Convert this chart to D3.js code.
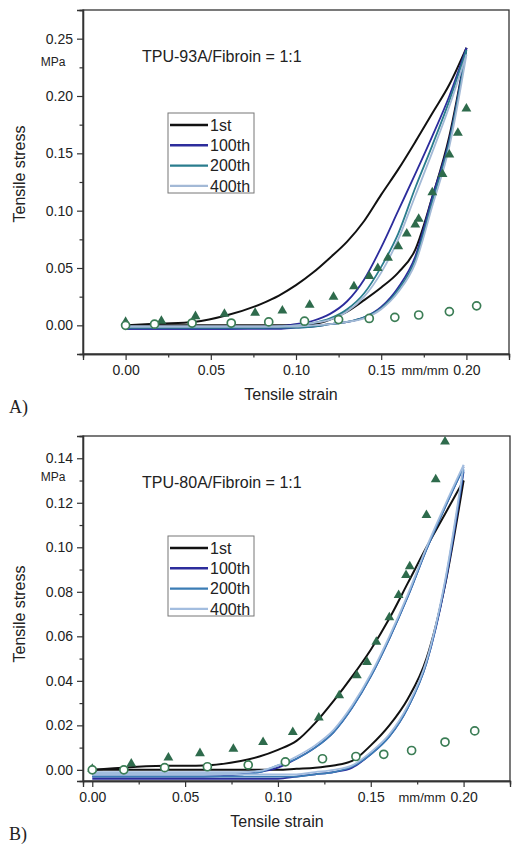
<!DOCTYPE html>
<html><head><meta charset="utf-8">
<script src="https://cdn.jsdelivr.net/npm/d3@7"></script>
<style>
body{margin:0;background:#fff;}
svg text{font-family:"Liberation Sans",Arial,Helvetica,sans-serif;fill:#222;}
</style>
</head><body>
<svg id="chart" width="520" height="850"></svg>
<script>
// ---------- DATA ----------
const cycleNames = ["1st", "100th", "200th", "400th"];
const strainGrid = [0, 0.02, 0.04, 0.06, 0.08, 0.09, 0.10, 0.11, 0.12, 0.13, 0.14, 0.15, 0.16, 0.17, 0.18, 0.19, 0.20];

// Panel A : TPU-93A/Fibroin = 1:1  (stress, MPa, at strainGrid)
const aLoad1st   = [0, 0.0015, 0.003, 0.009, 0.019, 0.026, 0.035, 0.046, 0.059, 0.073, 0.091, 0.114, 0.136, 0.160, 0.185, 0.210, 0.242];
const aLoad100   = [-0.003, -0.003, -0.003, -0.003, -0.002, -0.001, 0.001, 0.004, 0.010, 0.021, 0.040, 0.068, 0.100, 0.132, 0.165, 0.200, 0.242];
const aLoad200   = [-0.002, -0.002, -0.002, -0.002, -0.002, -0.001, 0.000, 0.002, 0.006, 0.014, 0.028, 0.051, 0.080, 0.120, 0.157, 0.196, 0.240];
const aLoad400   = [-0.001, -0.001, -0.001, -0.001, -0.001, -0.001, 0.000, 0.002, 0.005, 0.012, 0.025, 0.046, 0.075, 0.113, 0.151, 0.191, 0.236];
const aUnload1st = [0, 0, 0, 0, 0, 0, 0.0005, 0.001, 0.005, 0.012, 0.022, 0.033, 0.046, 0.066, 0.112, 0.165, 0.242];
const aUnload100 = [-0.003, -0.003, -0.003, -0.003, -0.003, -0.003, -0.002, -0.001, 0.001, 0.003, 0.007, 0.016, 0.033, 0.060, 0.112, 0.162, 0.242];
const aUnload200 = [-0.002, -0.002, -0.002, -0.002, -0.002, -0.002, -0.002, -0.001, 0.001, 0.003, 0.007, 0.015, 0.031, 0.057, 0.108, 0.160, 0.240];
const aUnload400 = [-0.001, -0.001, -0.001, -0.001, -0.001, -0.001, -0.001, 0.000, 0.001, 0.003, 0.006, 0.014, 0.029, 0.054, 0.104, 0.156, 0.236];
const aTriStrain = [0, 0.021, 0.041, 0.058, 0.076, 0.092, 0.108, 0.122, 0.134, 0.143, 0.148, 0.154, 0.160, 0.165, 0.170, 0.172, 0.180, 0.186, 0.190, 0.195, 0.200];
const aTriStress = [0.002, 0.003, 0.007, 0.009, 0.010, 0.012, 0.017, 0.024, 0.033, 0.042, 0.049, 0.058, 0.068, 0.079, 0.087, 0.092, 0.115, 0.131, 0.148, 0.167, 0.188];
const aCirStrain = [0, 0.017, 0.039, 0.062, 0.084, 0.105, 0.125, 0.143, 0.158, 0.172, 0.190, 0.206];
const aCirStress = [0.000, 0.001, 0.002, 0.002, 0.003, 0.0036, 0.005, 0.006, 0.007, 0.009, 0.012, 0.017];

// Panel B : TPU-80A/Fibroin = 1:1
const bLoad1st   = [0, 0.0012, 0.0018, 0.002, 0.004, 0.006, 0.009, 0.013, 0.021, 0.031, 0.042, 0.054, 0.068, 0.084, 0.100, 0.115, 0.130];
const bLoad100   = [-0.003, -0.003, -0.003, -0.003, -0.002, -0.001, 0.001, 0.005, 0.010, 0.017, 0.028, 0.042, 0.059, 0.078, 0.099, 0.118, 0.136];
const bLoad200   = [-0.002, -0.002, -0.002, -0.002, -0.002, -0.001, 0.002, 0.005, 0.010, 0.017, 0.028, 0.042, 0.059, 0.078, 0.099, 0.118, 0.136];
const bLoad400   = [-0.001, -0.001, -0.001, -0.001, -0.001, -0.0005, 0.002, 0.006, 0.011, 0.018, 0.029, 0.043, 0.060, 0.079, 0.100, 0.119, 0.137];
const bUnload1st = [0, 0, 0, 0, 0, 0, 0, 0.0005, 0.001, 0.002, 0.004, 0.011, 0.020, 0.032, 0.050, 0.083, 0.130];
const bUnload100 = [-0.004, -0.004, -0.004, -0.004, -0.004, -0.004, -0.004, -0.003, -0.002, -0.001, 0.001, 0.007, 0.015, 0.028, 0.048, 0.083, 0.134];
const bUnload200 = [-0.003, -0.003, -0.003, -0.003, -0.003, -0.003, -0.003, -0.003, -0.002, -0.001, 0.0015, 0.007, 0.015, 0.028, 0.048, 0.084, 0.135];
const bUnload400 = [-0.002, -0.002, -0.002, -0.002, -0.002, -0.002, -0.002, -0.002, -0.001, 0.000, 0.002, 0.008, 0.016, 0.029, 0.049, 0.085, 0.137];
const bTriStrain = [0, 0.021, 0.041, 0.058, 0.076, 0.092, 0.108, 0.122, 0.133, 0.1425, 0.148, 0.153, 0.160, 0.165, 0.169, 0.171, 0.180, 0.185, 0.190];
const bTriStress = [0.000, 0.0023, 0.005, 0.007, 0.009, 0.012, 0.0165, 0.023, 0.033, 0.042, 0.048, 0.057, 0.068, 0.078, 0.087, 0.091, 0.114, 0.130, 0.147];
const bCirStrain = [0, 0.017, 0.039, 0.062, 0.084, 0.104, 0.124, 0.142, 0.157, 0.172, 0.190, 0.206];
const bCirStress = [0.000, 0.000, 0.001, 0.0014, 0.0022, 0.0036, 0.005, 0.006, 0.007, 0.0087, 0.0125, 0.0175];

const aXTicks = [0, 0.05, 0.10, 0.15, 0.20];
const aYTicks = [0, 0.05, 0.10, 0.15, 0.20, 0.25];
const bXTicks = [0, 0.05, 0.10, 0.15, 0.20];
const bYTicks = [0, 0.02, 0.04, 0.06, 0.08, 0.10, 0.12, 0.14];

// ---------- DRAW ----------
const svg = d3.select("#chart");
const colorsA = ["#111111", "#2c2c9c", "#2a7d8e", "#a3b9d6"];
const colorsB = ["#111111", "#2c2c9c", "#3b7db5", "#a3bddf"];
const triColor = "#2e6b4c";
const cirColor = "#3b7d55";

function drawPanel(p) {
  const x = d3.scaleLinear().domain(p.xDom).range([p.left, p.right]);
  const y = d3.scaleLinear().domain(p.yDom).range([p.bottom, p.top]);
  const g = svg.append("g");

  g.append("rect").attr("x", p.left).attr("y", p.top)
    .attr("width", p.right - p.left).attr("height", p.bottom - p.top)
    .attr("fill", "none").attr("stroke", "#333").attr("stroke-width", 1.3);

  const xMinor = d3.range(p.xMinorStart, p.xDom[1] + 1e-9, p.xMinorStep).filter(v => !p.xTicks.some(t => Math.abs(t - v) < 1e-9));
  const yMinor = d3.range(p.yMinorStart, p.yDom[1] + 1e-9, p.yMinorStep).filter(v => !p.yTicks.some(t => Math.abs(t - v) < 1e-9));
  const fmt = d3.format(".2f");

  const xAx = g.append("g").attr("transform", `translate(0,${p.bottom})`)
    .call(d3.axisBottom(x).tickValues(p.xTicks).tickFormat(fmt).tickSize(6).tickPadding(5));
  const xAxM = g.append("g").attr("transform", `translate(0,${p.bottom})`)
    .call(d3.axisBottom(x).tickValues(xMinor).tickFormat("").tickSize(3.5));
  const yAx = g.append("g").attr("transform", `translate(${p.left},0)`)
    .call(d3.axisLeft(y).tickValues(p.yTicks).tickFormat(fmt).tickSize(6).tickPadding(4));
  const yAxM = g.append("g").attr("transform", `translate(${p.left},0)`)
    .call(d3.axisLeft(y).tickValues(yMinor).tickFormat("").tickSize(3.5));
  [xAx, xAxM, yAx, yAxM].forEach(a => {
    a.select(".domain").attr("stroke", "#333").attr("stroke-width", 1.3);
    a.selectAll(".tick line").attr("stroke", "#333").attr("stroke-width", 1.2);
    a.selectAll("text").attr("font-size", 14).attr("fill", "#333")
      .attr("font-family", '"Liberation Sans",Arial,sans-serif');
  });

  const line = d3.line().x(d => x(d[0])).y(d => y(d[1])).curve(d3.curveMonotoneX);
  p.loads.forEach((arr, i) => {
    const pts = strainGrid.map((s, k) => [s, arr[k]]);
    const upts = strainGrid.map((s, k) => [s, p.unloads[i][k]]);
    [upts, pts].forEach(d => {
      g.append("path").attr("d", line(d)).attr("fill", "none")
        .attr("stroke", p.colors[i]).attr("stroke-width", i === 0 ? 2 : 1.8)
        .attr("stroke-linejoin", "round");
    });
  });

  const tri = d3.symbol().type(d3.symbolTriangle).size(42);
  p.triS.forEach((s, k) => {
    g.append("path").attr("d", tri())
      .attr("transform", `translate(${x(s)},${y(p.triV[k]) - 1})`)
      .attr("fill", triColor);
  });
  p.cirS.forEach((s, k) => {
    g.append("circle").attr("cx", x(s)).attr("cy", y(p.cirV[k])).attr("r", 4)
      .attr("fill", "#fff").attr("stroke", cirColor).attr("stroke-width", 1.7);
  });

  const lg = g.append("g");
  lg.append("rect").attr("x", p.legX).attr("y", p.legY).attr("width", 86).attr("height", 80)
    .attr("fill", "#fff").attr("stroke", "#777").attr("stroke-width", 1);
  cycleNames.forEach((n, i) => {
    const yy = p.legY + 12 + i * 20.3;
    lg.append("line").attr("x1", p.legX + 2).attr("x2", p.legX + 40).attr("y1", yy).attr("y2", yy)
      .attr("stroke", p.colors[i]).attr("stroke-width", 2.4);
    lg.append("text").attr("x", p.legX + 42).attr("y", yy).attr("dy", "0.36em")
      .attr("font-size", 16).text(n);
  });

  g.append("text").attr("x", p.left + 59).attr("y", p.top + 52).attr("font-size", 16).text(p.title);
  g.append("text").attr("x", 53).attr("y", p.mpaY).attr("text-anchor", "middle").attr("font-size", 12).attr("fill", "#333").text("MPa");
  g.append("text").attr("x", p.mmX).attr("y", p.bottom + 21).attr("text-anchor", "middle").attr("font-size", 13).attr("fill", "#333").text("mm/mm");
  g.append("text").attr("x", p.xLabX).attr("y", p.bottom + 46).attr("text-anchor", "middle").attr("font-size", 16).text("Tensile strain");
  g.append("text").attr("transform", `translate(25,${p.yLabY}) rotate(-90)`).attr("text-anchor", "middle").attr("font-size", 16).text("Tensile stress");
  g.append("text").attr("x", 9).attr("y", p.tagY).attr("font-size", 18)
    .style("font-family", '"Liberation Serif","Times New Roman",serif').text(p.tag);
}

drawPanel({
  left: 83, right: 509, top: 10, bottom: 354,
  xDom: [-0.025, 0.225], yDom: [-0.025, 0.275],
  xTicks: aXTicks, yTicks: aYTicks,
  xMinorStart: -0.025, xMinorStep: 0.025, yMinorStart: -0.025, yMinorStep: 0.025,
  loads: [aLoad1st, aLoad100, aLoad200, aLoad400],
  unloads: [aUnload1st, aUnload100, aUnload200, aUnload400],
  triS: aTriStrain, triV: aTriStress, cirS: aCirStrain, cirV: aCirStress,
  colors: colorsA, legX: 168, legY: 113,
  title: "TPU-93A/Fibroin = 1:1", mpaY: 66, mmX: 425, xLabX: 291, yLabY: 174,
  tag: "A)", tagY: 413
});

drawPanel({
  left: 83, right: 510, top: 436, bottom: 781,
  xDom: [-0.005, 0.225], yDom: [-0.005, 0.15],
  xTicks: bXTicks, yTicks: bYTicks,
  xMinorStart: 0.025, xMinorStep: 0.025, yMinorStart: 0.01, yMinorStep: 0.02,
  loads: [bLoad1st, bLoad100, bLoad200, bLoad400],
  unloads: [bUnload1st, bUnload100, bUnload200, bUnload400],
  triS: bTriStrain, triV: bTriStress, cirS: bCirStrain, cirV: bCirStress,
  colors: colorsB, legX: 168, legY: 536,
  title: "TPU-80A/Fibroin = 1:1", mpaY: 481, mmX: 422, xLabX: 277, yLabY: 614,
  tag: "B)", tagY: 840
});
</script>
</body></html>
